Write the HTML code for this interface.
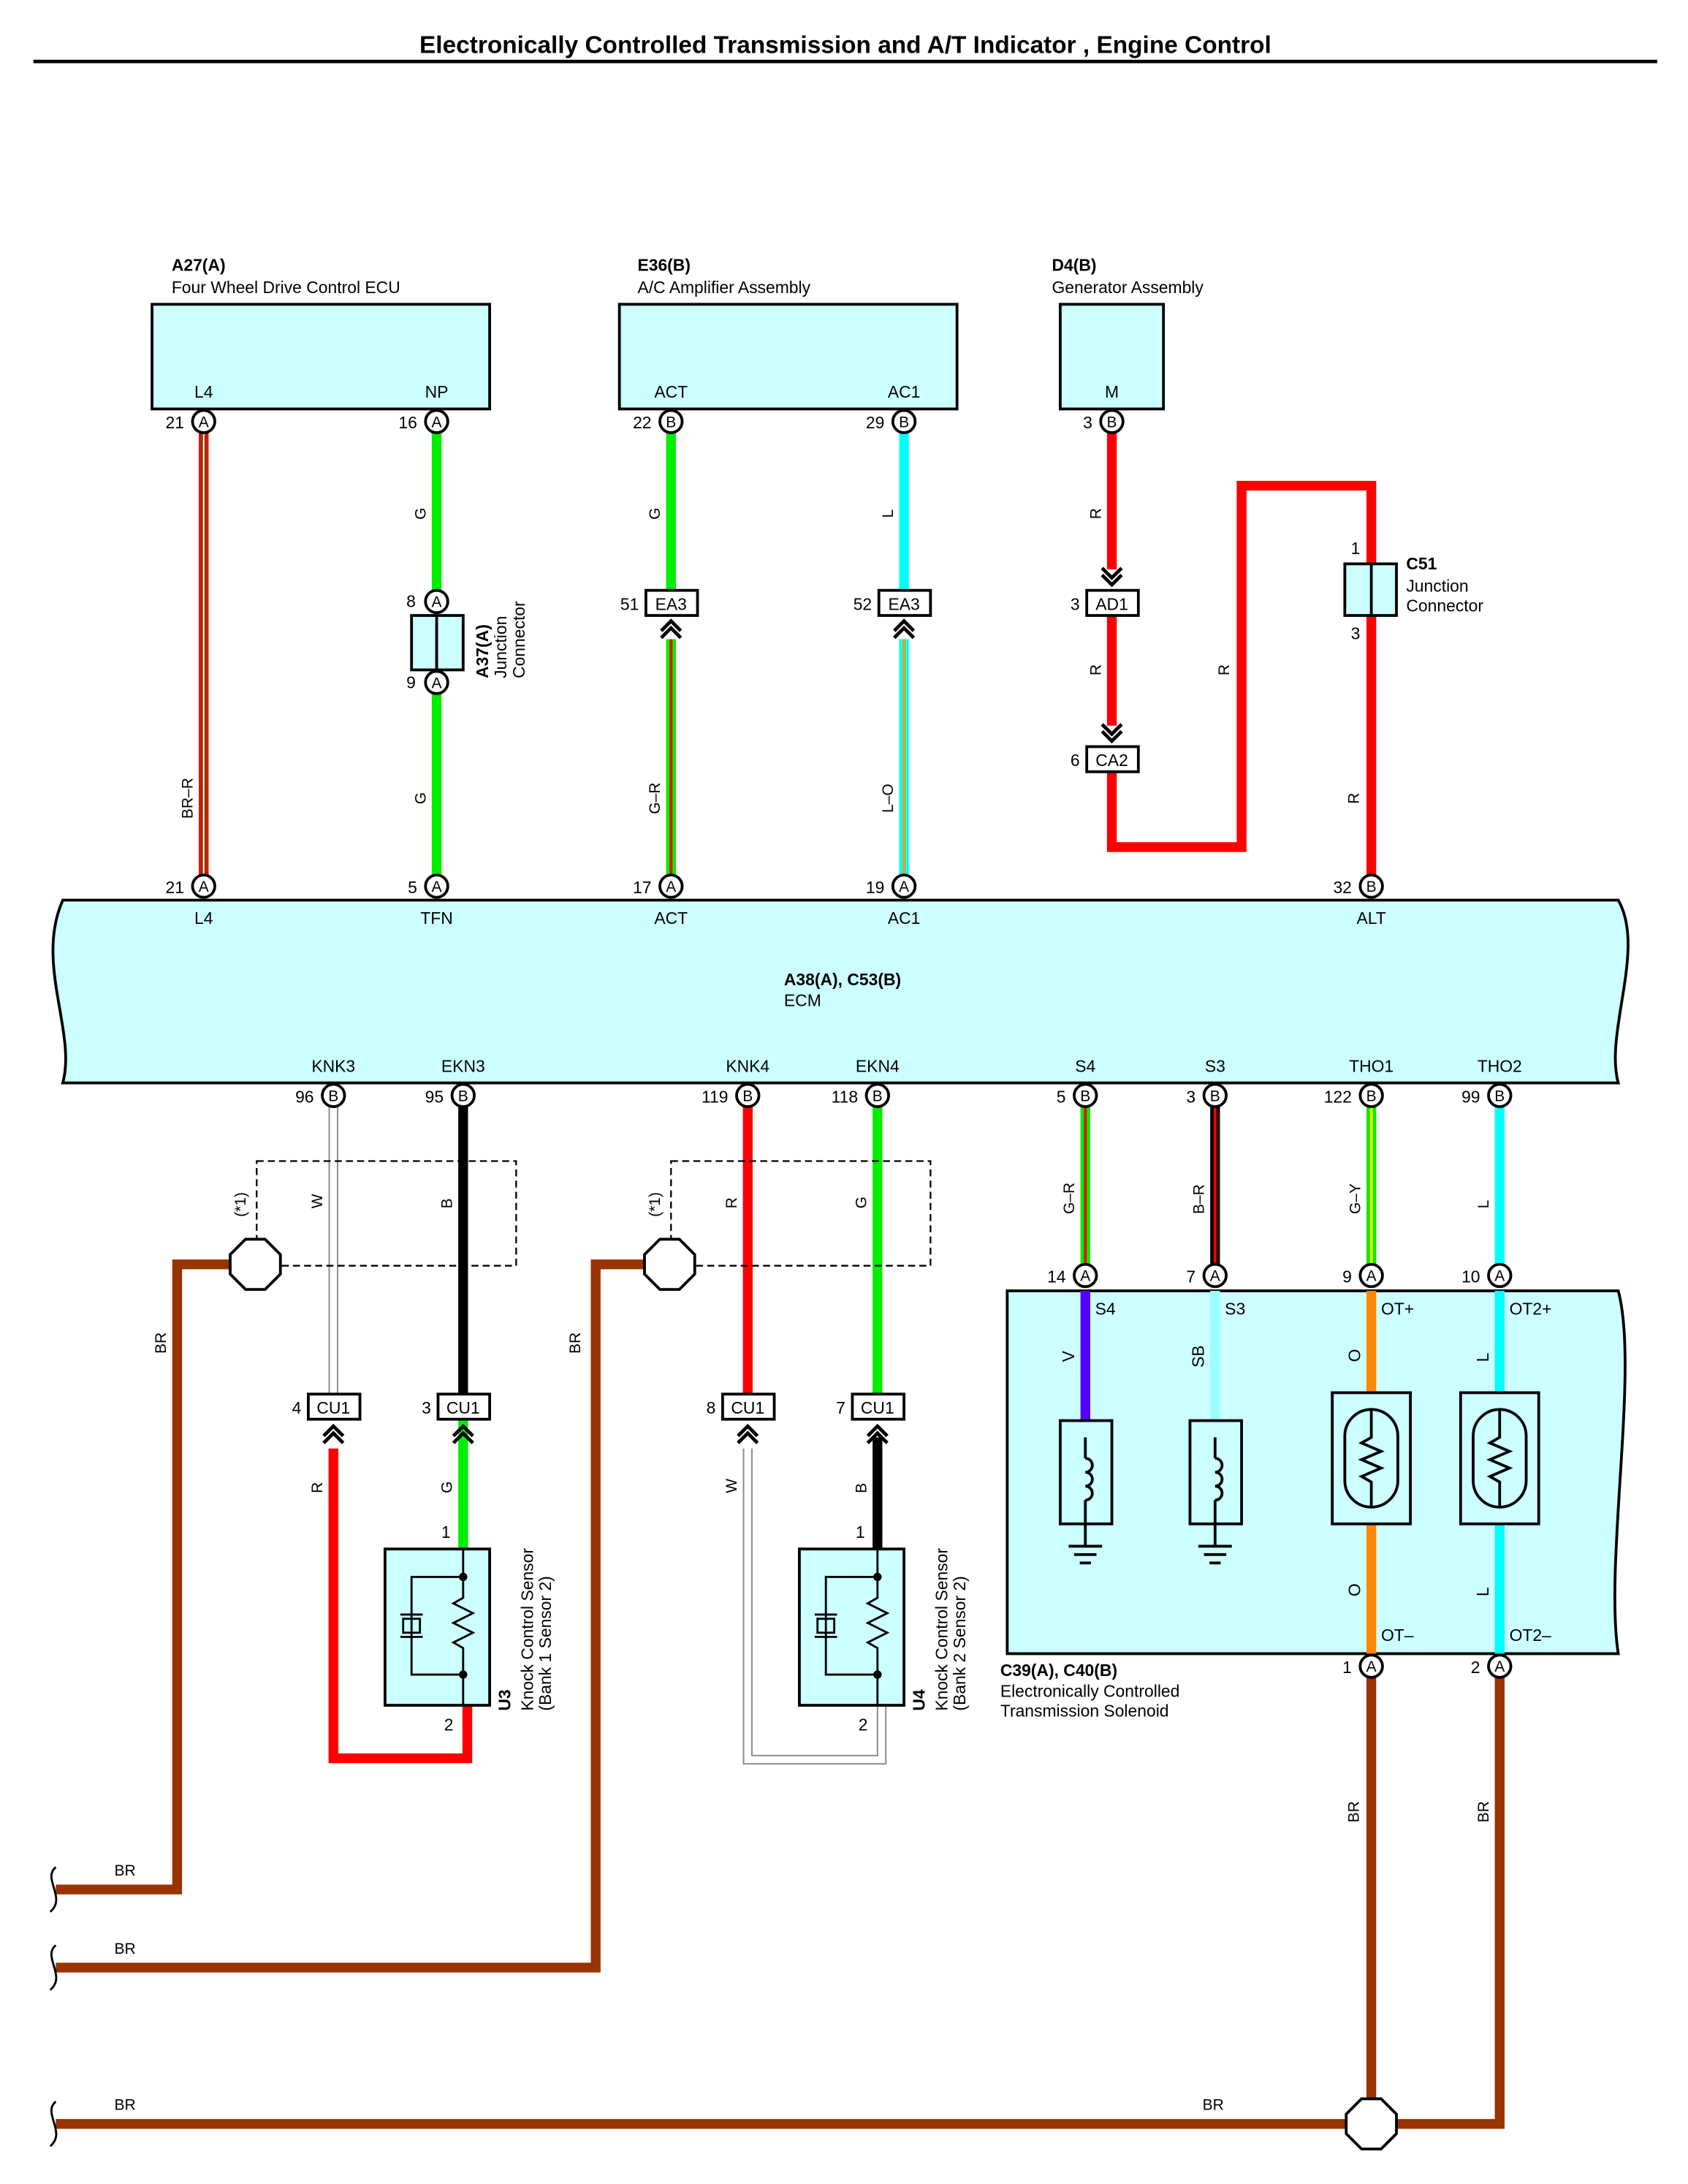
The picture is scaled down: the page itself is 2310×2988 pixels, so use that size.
<!DOCTYPE html>
<html><head><meta charset="utf-8"><style>
html,body{margin:0;padding:0;background:#fff}
svg{display:block}
text{font-family:"Liberation Sans",Arial,sans-serif;fill:#000}
</style></head><body>
<svg width="2310" height="2988" viewBox="0 0 1210 1565" xmlns="http://www.w3.org/2000/svg">
<defs>
<g id="chevU"><path d="M-7,6 L0,-1 L7,6 M-7,11 L0,4 L7,11" fill="none" stroke="#000" stroke-width="2.5"/></g>
<g id="chevD"><path d="M-7,-6 L0,1 L7,-6 M-7,-11 L0,-4 L7,-11" fill="none" stroke="#000" stroke-width="2.5"/></g>
</defs>
<rect width="1210" height="1565" fill="#fff"/>
<text x="606" y="38" font-size="17.5" font-weight="bold" text-anchor="middle">Electronically Controlled Transmission and A/T Indicator , Engine Control</text>
<line x1="24" y1="44" x2="1188" y2="44" stroke="#000" stroke-width="2.5"/>

<g font-size="12">
<text x="123" y="194" font-weight="bold">A27(A)</text><text x="123" y="210">Four Wheel Drive Control ECU</text>
<text x="457" y="194" font-weight="bold">E36(B)</text><text x="457" y="210">A/C Amplifier Assembly</text>
<text x="754" y="194" font-weight="bold">D4(B)</text><text x="754" y="210">Generator Assembly</text>
</g>
<g fill="#ccffff" stroke="#000" stroke-width="2">
<rect x="109" y="218" width="242" height="75"/>
<rect x="444" y="218" width="242" height="75"/>
<rect x="760" y="218" width="74" height="75"/>
</g>
<g font-size="12" text-anchor="middle">
<text x="146" y="285">L4</text><text x="313" y="285">NP</text>
<text x="481" y="285">ACT</text><text x="648" y="285">AC1</text>
<text x="797" y="285">M</text>
</g>

<g fill="none" stroke-linecap="butt">
<line x1="146" y1="310" x2="146" y2="627" stroke="#993300" stroke-width="7"/>
<line x1="143" y1="310" x2="143" y2="627" stroke="#ff0000" stroke-width="1"/>
<line x1="149" y1="310" x2="149" y2="627" stroke="#ff0000" stroke-width="1"/>
<line x1="146" y1="310" x2="146" y2="627" stroke="#fff" stroke-width="1"/>
<line x1="313" y1="310" x2="313" y2="423" stroke="#00ee00" stroke-width="7"/>
<line x1="313" y1="497" x2="313" y2="627" stroke="#00ee00" stroke-width="7"/>
<line x1="481" y1="310" x2="481" y2="423" stroke="#00ee00" stroke-width="7"/>
<line x1="481" y1="458" x2="481" y2="627" stroke="#00ee00" stroke-width="7"/>
<line x1="481" y1="458" x2="481" y2="627" stroke="#ff0000" stroke-width="2"/>
<line x1="648" y1="310" x2="648" y2="423" stroke="#00ffff" stroke-width="7"/>
<line x1="648" y1="458" x2="648" y2="627" stroke="#00ffff" stroke-width="7"/>
<line x1="648" y1="458" x2="648" y2="627" stroke="#ff9900" stroke-width="2"/>
<line x1="797" y1="310" x2="797" y2="408" stroke="#ff0000" stroke-width="7"/>
<line x1="797" y1="441" x2="797" y2="520" stroke="#ff0000" stroke-width="7"/>
<polyline points="797,553 797,607 890,607 890,348 983,348 983,404" stroke="#ff0000" stroke-width="7"/>
<line x1="983" y1="441" x2="983" y2="627" stroke="#ff0000" stroke-width="7"/>
</g>
<g font-size="11" text-anchor="middle">
<text transform="translate(305,368) rotate(-90)">G</text>
<text transform="translate(305,572) rotate(-90)">G</text>
<text transform="translate(138,572) rotate(-90)">BR–R</text>
<text transform="translate(473,368) rotate(-90)">G</text>
<text transform="translate(473,572) rotate(-90)">G–R</text>
<text transform="translate(640,368) rotate(-90)">L</text>
<text transform="translate(640,572) rotate(-90)">L–O</text>
<text transform="translate(789,368) rotate(-90)">R</text>
<text transform="translate(789,480) rotate(-90)">R</text>
<text transform="translate(881,480) rotate(-90)">R</text>
<text transform="translate(974,572) rotate(-90)">R</text>
</g>

<rect x="295" y="441" width="37" height="39" fill="#ccffff" stroke="#000" stroke-width="2"/>
<line x1="313" y1="441" x2="313" y2="480" stroke="#000" stroke-width="2"/>
<text transform="translate(350,486) rotate(-90)" font-size="12" font-weight="bold">A37(A)</text>
<text transform="translate(363,486) rotate(-90)" font-size="12">Junction</text>
<text transform="translate(376,486) rotate(-90)" font-size="12">Connector</text>
<text x="298" y="435" font-size="12" text-anchor="end">8</text>
<text x="298" y="493" font-size="12" text-anchor="end">9</text>

<g fill="#fff" stroke="#000" stroke-width="2">
<rect x="463" y="423" width="37" height="18"/>
<rect x="630" y="423" width="37" height="18"/>
<rect x="779" y="423" width="37" height="18"/>
<rect x="779" y="535" width="37" height="18"/>
</g>
<g font-size="12" text-anchor="middle">
<text x="481" y="437">EA3</text><text x="648" y="437">EA3</text>
<text x="797" y="437">AD1</text><text x="797" y="549">CA2</text>
</g>
<g font-size="12" text-anchor="end">
<text x="458" y="437">51</text><text x="625" y="437">52</text>
<text x="774" y="437">3</text><text x="774" y="549">6</text>
</g>
<use href="#chevU" x="481" y="446"/><use href="#chevU" x="648" y="446"/>
<use href="#chevD" x="797" y="418"/><use href="#chevD" x="797" y="530"/>

<rect x="964" y="404" width="37" height="37" fill="#ccffff" stroke="#000" stroke-width="2"/>
<line x1="983" y1="404" x2="983" y2="441" stroke="#000" stroke-width="2"/>
<text x="975" y="397" font-size="12" text-anchor="end">1</text>
<text x="975" y="458" font-size="12" text-anchor="end">3</text>
<text x="1008" y="408" font-size="12" font-weight="bold">C51</text>
<text x="1008" y="424" font-size="12">Junction</text>
<text x="1008" y="438" font-size="12">Connector</text>

<path d="M45,645 L1160,645 C1180,680 1150,740 1160,776 L45,776 C55,740 25,690 45,645 Z" fill="#ccffff" stroke="#000" stroke-width="2"/>
<g font-size="12" text-anchor="middle">
<text x="146" y="662">L4</text><text x="313" y="662">TFN</text><text x="481" y="662">ACT</text>
<text x="648" y="662">AC1</text><text x="983" y="662">ALT</text>
<text x="239" y="768">KNK3</text><text x="332" y="768">EKN3</text>
<text x="536" y="768">KNK4</text><text x="629" y="768">EKN4</text>
<text x="778" y="768">S4</text><text x="871" y="768">S3</text>
<text x="983" y="768">THO1</text><text x="1075" y="768">THO2</text>
</g>
<text x="562" y="706" font-size="12" font-weight="bold">A38(A), C53(B)</text>
<text x="562" y="721" font-size="12">ECM</text>

<g fill="none">
<line x1="236" y1="793" x2="236" y2="999" stroke="#888" stroke-width="1"/>
<line x1="242" y1="793" x2="242" y2="999" stroke="#888" stroke-width="1"/>
<line x1="332" y1="793" x2="332" y2="999" stroke="#000" stroke-width="7"/>
<line x1="536" y1="793" x2="536" y2="999" stroke="#ff0000" stroke-width="7"/>
<line x1="629" y1="793" x2="629" y2="999" stroke="#00ee00" stroke-width="7"/>
<line x1="778" y1="793" x2="778" y2="906" stroke="#00ee00" stroke-width="7"/>
<line x1="778" y1="793" x2="778" y2="906" stroke="#ff0000" stroke-width="2"/>
<line x1="871" y1="793" x2="871" y2="906" stroke="#000" stroke-width="7"/>
<line x1="871" y1="793" x2="871" y2="906" stroke="#ff0000" stroke-width="2"/>
<line x1="983" y1="793" x2="983" y2="906" stroke="#00ee00" stroke-width="7"/>
<line x1="983" y1="793" x2="983" y2="906" stroke="#ffff00" stroke-width="2"/>
<line x1="1075" y1="793" x2="1075" y2="906" stroke="#00ffff" stroke-width="7"/>
<rect x="184" y="832" width="186" height="75" stroke="#000" stroke-width="1.2" stroke-dasharray="5,3"/>
<rect x="481" y="832" width="186" height="75" stroke="#000" stroke-width="1.2" stroke-dasharray="5,3"/>
<polyline points="165,906 127,906 127,1354 40,1354" stroke="#993300" stroke-width="7"/>
<polyline points="462,906 427,906 427,1410 40,1410" stroke="#993300" stroke-width="7"/>
<polyline points="40,1522 965,1522" stroke="#993300" stroke-width="7"/>
<polyline points="983,1202 983,1504" stroke="#993300" stroke-width="7"/>
<polyline points="1075,1202 1075,1522 1001,1522" stroke="#993300" stroke-width="7"/>
<polyline points="239,1038 239,1260 335,1260 335,1222" stroke="#ff0000" stroke-width="7"/>
<line x1="332" y1="1016" x2="332" y2="1110" stroke="#00ee00" stroke-width="7"/>
<polyline points="533,1038 533,1264 635,1264 635,1222" stroke="#888" stroke-width="1"/>
<polyline points="539,1038 539,1258 629,1258 629,1222" stroke="#888" stroke-width="1"/>
<line x1="629" y1="1030" x2="629" y2="1110" stroke="#000" stroke-width="7"/>
</g>
<g fill="none" stroke="#000" stroke-width="1.5">
<path d="M40,1338 C30,1346 48,1360 36,1370"/>
<path d="M40,1394 C30,1402 48,1416 36,1426"/>
<path d="M40,1506 C30,1514 48,1528 36,1538"/>
</g>
<g fill="#fff" stroke="#000" stroke-width="2">
<polygon points="176,888 190,888 201,899 201,913 190,924 176,924 165,913 165,899"/>
<polygon points="473,888 487,888 498,899 498,913 487,924 473,924 462,913 462,899"/>
<polygon points="976,1504 990,1504 1001,1515 1001,1529 990,1540 976,1540 965,1529 965,1515"/>
</g>
<g font-size="11">
<text transform="translate(176,872) rotate(-90)">(*1)</text>
<text transform="translate(473,872) rotate(-90)">(*1)</text>
<text transform="translate(231,866) rotate(-90)">W</text>
<text transform="translate(324,866) rotate(-90)">B</text>
<text transform="translate(528,866) rotate(-90)">R</text>
<text transform="translate(621,866) rotate(-90)">G</text>
<text transform="translate(119,970) rotate(-90)">BR</text>
<text transform="translate(416,970) rotate(-90)">BR</text>
<text transform="translate(231,1070) rotate(-90)">R</text>
<text transform="translate(324,1070) rotate(-90)">G</text>
<text transform="translate(528,1070) rotate(-90)">W</text>
<text transform="translate(621,1070) rotate(-90)">B</text>
<text transform="translate(770,870) rotate(-90)">G–R</text>
<text transform="translate(863,870) rotate(-90)">B–R</text>
<text transform="translate(975,870) rotate(-90)">G–Y</text>
<text transform="translate(1067,866) rotate(-90)">L</text>
<text transform="translate(974,1306) rotate(-90)">BR</text>
<text transform="translate(1067,1306) rotate(-90)">BR</text>
<text x="82" y="1344">BR</text><text x="82" y="1400">BR</text>
<text x="82" y="1512">BR</text><text x="862" y="1512">BR</text>
</g>

<g fill="#fff" stroke="#000" stroke-width="2">
<rect x="221" y="999" width="37" height="18"/>
<rect x="314" y="999" width="37" height="18"/>
<rect x="518" y="999" width="37" height="18"/>
<rect x="611" y="999" width="37" height="18"/>
</g>
<g font-size="12" text-anchor="middle">
<text x="239" y="1013">CU1</text><text x="332" y="1013">CU1</text>
<text x="536" y="1013">CU1</text><text x="629" y="1013">CU1</text>
</g>
<g font-size="12" text-anchor="end">
<text x="216" y="1013">4</text><text x="309" y="1013">3</text>
<text x="513" y="1013">8</text><text x="606" y="1013">7</text>
</g>
<use href="#chevU" x="239" y="1023"/><use href="#chevU" x="332" y="1023"/>
<use href="#chevU" x="536" y="1023"/><use href="#chevU" x="629" y="1023"/>

<g id="ks">
<rect x="276" y="1110" width="75" height="112" fill="#ccffff" stroke="#000" stroke-width="2"/>
<g fill="none" stroke="#000" stroke-width="1.5">
<polyline points="332,1110 332,1130 295,1130 295,1200 332,1200 332,1222"/>
<polyline points="332,1130 332,1145 325,1149 339,1156 325,1163 339,1170 325,1177 332,1181 332,1200"/>
<rect x="289" y="1160" width="12" height="10"/>
<line x1="287" y1="1157" x2="303" y2="1157"/><line x1="287" y1="1173" x2="303" y2="1173"/>
</g>
<circle cx="332" cy="1130" r="3" fill="#000"/><circle cx="332" cy="1200" r="3" fill="#000"/>
</g>
<use href="#ks" x="297" y="0"/>
<g font-size="12">
<text x="323" y="1102" text-anchor="end">1</text><text x="325" y="1240" text-anchor="end">2</text>
<text x="620" y="1102" text-anchor="end">1</text><text x="622" y="1240" text-anchor="end">2</text>
<text transform="translate(366,1226) rotate(-90)" font-weight="bold">U3</text>
<text transform="translate(382,1226) rotate(-90)">Knock Control Sensor</text>
<text transform="translate(395,1226) rotate(-90)">(Bank 1 Sensor 2)</text>
<text transform="translate(663,1226) rotate(-90)" font-weight="bold">U4</text>
<text transform="translate(679,1226) rotate(-90)">Knock Control Sensor</text>
<text transform="translate(692,1226) rotate(-90)">(Bank 2 Sensor 2)</text>
</g>

<path d="M722,925 L1160,925 C1175,980 1150,1120 1160,1185 L722,1185 Z" fill="#ccffff" stroke="#000" stroke-width="2"/>
<g fill="none">
<line x1="778" y1="925" x2="778" y2="1018" stroke="#5500ff" stroke-width="7"/>
<line x1="871" y1="925" x2="871" y2="1018" stroke="#99ffff" stroke-width="7"/>
<line x1="983" y1="925" x2="983" y2="998" stroke="#ff8800" stroke-width="7"/>
<line x1="983" y1="1092" x2="983" y2="1185" stroke="#ff8800" stroke-width="7"/>
<line x1="1075" y1="925" x2="1075" y2="998" stroke="#00ffff" stroke-width="7"/>
<line x1="1075" y1="1092" x2="1075" y2="1185" stroke="#00ffff" stroke-width="7"/>
</g>
<g stroke="#000" stroke-width="2" fill="none">
<rect x="760" y="1018" width="37" height="74" fill="#ccffff"/>
<rect x="853" y="1018" width="37" height="74" fill="#ccffff"/>
<path d="M778,1045 a5,5 0 1 1 0,10 a5,5 0 1 1 0,10 a5,5 0 1 1 0,10 M778,1045 L778,1030 M778,1075 L778,1092 L778,1108"/>
<path d="M871,1045 a5,5 0 1 1 0,10 a5,5 0 1 1 0,10 a5,5 0 1 1 0,10 M871,1045 L871,1030 M871,1075 L871,1092 L871,1108"/>
<path d="M766,1108 L790,1108 M770,1114 L786,1114 M774,1120 L782,1120"/>
<path d="M859,1108 L883,1108 M863,1114 L879,1114 M867,1120 L875,1120"/>
<rect x="955" y="998" width="56" height="94" fill="#ccffff"/>
<rect x="1047" y="998" width="56" height="94" fill="#ccffff"/>
<rect x="964" y="1010" width="38" height="70" rx="19"/>
<rect x="1056" y="1010" width="38" height="70" rx="19"/>
<path d="M983,1010 L983,1030 L976,1034 L990,1040 L976,1046 L990,1052 L976,1058 L983,1062 L983,1080"/>
<path d="M1075,1010 L1075,1030 L1068,1034 L1082,1040 L1068,1046 L1082,1052 L1068,1058 L1075,1062 L1075,1080"/>
</g>
<g font-size="12">
<text x="785" y="942">S4</text><text x="878" y="942">S3</text>
<text x="990" y="942">OT+</text><text x="1082" y="942">OT2+</text>
<text x="990" y="1176">OT–</text><text x="1082" y="1176">OT2–</text>
<text transform="translate(770,976) rotate(-90)">V</text>
<text transform="translate(863,980) rotate(-90)">SB</text>
<text transform="translate(975,976) rotate(-90)">O</text>
<text transform="translate(1067,976) rotate(-90)">L</text>
<text transform="translate(975,1144) rotate(-90)">O</text>
<text transform="translate(1067,1144) rotate(-90)">L</text>
<text x="717" y="1201" font-weight="bold">C39(A), C40(B)</text>
<text x="717" y="1216">Electronically Controlled</text>
<text x="717" y="1230">Transmission Solenoid</text>
</g>

<g stroke="#000" stroke-width="2" fill="#fff">
<circle cx="146" cy="302" r="8"/><circle cx="313" cy="302" r="8"/>
<circle cx="481" cy="302" r="8"/><circle cx="648" cy="302" r="8"/><circle cx="797" cy="302" r="8"/>
<circle cx="313" cy="431" r="8"/><circle cx="313" cy="489" r="8"/>
<circle cx="146" cy="635" r="8"/><circle cx="313" cy="635" r="8"/><circle cx="481" cy="635" r="8"/>
<circle cx="648" cy="635" r="8"/><circle cx="983" cy="635" r="8"/>
<circle cx="239" cy="785" r="8"/><circle cx="332" cy="785" r="8"/><circle cx="536" cy="785" r="8"/>
<circle cx="629" cy="785" r="8"/><circle cx="778" cy="785" r="8"/><circle cx="871" cy="785" r="8"/>
<circle cx="983" cy="785" r="8"/><circle cx="1075" cy="785" r="8"/>
<circle cx="778" cy="914" r="8"/><circle cx="871" cy="914" r="8"/><circle cx="983" cy="914" r="8"/><circle cx="1075" cy="914" r="8"/>
<circle cx="983" cy="1194" r="8"/><circle cx="1075" cy="1194" r="8"/>
</g>
<g font-size="11" text-anchor="middle">
<text x="146" y="306">A</text><text x="313" y="306">A</text><text x="481" y="306">B</text><text x="648" y="306">B</text><text x="797" y="306">B</text>
<text x="313" y="435">A</text><text x="313" y="493">A</text>
<text x="146" y="639">A</text><text x="313" y="639">A</text><text x="481" y="639">A</text><text x="648" y="639">A</text><text x="983" y="639">B</text>
<text x="239" y="789">B</text><text x="332" y="789">B</text><text x="536" y="789">B</text><text x="629" y="789">B</text>
<text x="778" y="789">B</text><text x="871" y="789">B</text><text x="983" y="789">B</text><text x="1075" y="789">B</text>
<text x="778" y="918">A</text><text x="871" y="918">A</text><text x="983" y="918">A</text><text x="1075" y="918">A</text>
<text x="983" y="1198">A</text><text x="1075" y="1198">A</text>
</g>
<g font-size="12" text-anchor="end">
<text x="132" y="307">21</text><text x="299" y="307">16</text><text x="467" y="307">22</text><text x="634" y="307">29</text><text x="783" y="307">3</text>
<text x="132" y="640">21</text><text x="299" y="640">5</text><text x="467" y="640">17</text><text x="634" y="640">19</text><text x="969" y="640">32</text>
<text x="225" y="790">96</text><text x="318" y="790">95</text><text x="522" y="790">119</text><text x="615" y="790">118</text>
<text x="764" y="790">5</text><text x="857" y="790">3</text><text x="969" y="790">122</text><text x="1061" y="790">99</text>
<text x="764" y="919">14</text><text x="857" y="919">7</text><text x="969" y="919">9</text><text x="1061" y="919">10</text>
<text x="969" y="1199">1</text><text x="1061" y="1199">2</text>
</g>
</svg>
</body></html>
